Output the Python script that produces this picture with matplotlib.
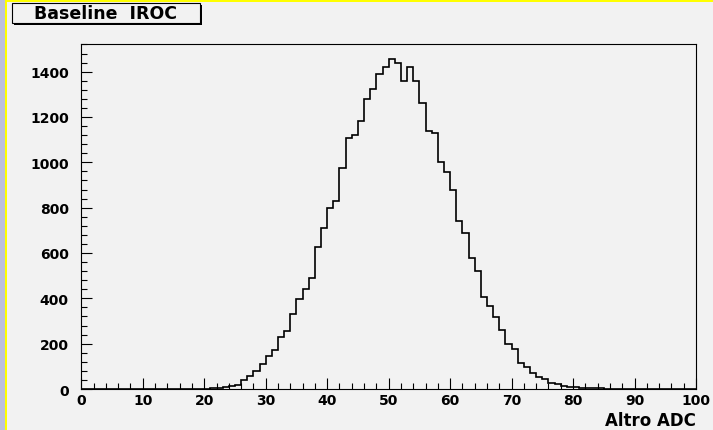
import numpy as np
import matplotlib
matplotlib.use("Agg")
import matplotlib.pyplot as plt
from matplotlib.patches import Rectangle
from matplotlib.ticker import MultipleLocator

# histogram contents, 1 ADC wide bins from 0 to 100
first_bin = 20
counts_nonzero = [1, 5, 3, 7, 13, 19, 40, 59, 81, 112,
                  147, 173, 229, 257, 330, 399, 443, 488, 628, 709,
                  799, 831, 973, 1106, 1122, 1184, 1280, 1325, 1391, 1422,
                  1454, 1438, 1360, 1422, 1360, 1261, 1140, 1131, 1001, 957,
                  880, 739, 687, 576, 521, 407, 366, 319, 261, 197,
                  176, 113, 95, 72, 51, 43, 28, 21, 15, 10,
                  7, 6, 3, 3, 3, 2, 2, 1, 1]
n_bins = 100
x_range = (0, 100)
title = "Baseline  IROC"
x_label = "Altro ADC"

counts = np.zeros(n_bins)
counts[first_bin:first_bin + len(counts_nonzero)] = counts_nonzero
edges = np.linspace(x_range[0], x_range[1], n_bins + 1)

W, H = 713, 431
bg = "#f2f2f2"
fig = plt.figure(figsize=(W / 100, H / 100), dpi=100, facecolor=bg)

# canvas border: lavender strip on the left, yellow edge
fig.patches.append(Rectangle((0, 0), 5 / W, 1, transform=fig.transFigure,
                             facecolor="#bcc0dc", edgecolor="none", zorder=0))
fig.patches.append(Rectangle((5 / W, 0), 2 / W, 1, transform=fig.transFigure,
                             facecolor="#ffff00", edgecolor="none", zorder=0))
fig.patches.append(Rectangle((5 / W, 1 - 3 / H), 1, 3 / H, transform=fig.transFigure,
                             facecolor="#ffff00", edgecolor="none", zorder=0))

ax = fig.add_axes([81.3 / W, 1 - 390 / H, (696 - 81.3) / W, (390 - 45) / H])
ax.set_facecolor(bg)
ax.stairs(counts, edges, color="black", linewidth=1.2)

ax.set_xlim(*x_range)
ax.set_ylim(0, 1522)
ax.xaxis.set_major_locator(MultipleLocator(10))
ax.xaxis.set_minor_locator(MultipleLocator(2))
ax.yaxis.set_major_locator(MultipleLocator(200))
ax.yaxis.set_minor_locator(MultipleLocator(40))
ax.tick_params(which="both", direction="in", top=False, right=False,
               width=0.8, colors="black")
ax.tick_params(which="major", length=8)
ax.tick_params(which="minor", length=4)
ax.tick_params(axis="x", pad=3)
ax.tick_params(axis="y", pad=9)
for lab in ax.get_xticklabels() + ax.get_yticklabels():
    lab.set_fontweight("bold")
    lab.set_fontsize(10)
for s in ax.spines.values():
    s.set_linewidth(0.8)
    s.set_color("black")

fig.text(696 / W, 1 - 426 / H, x_label, ha="right", va="baseline",
         fontsize=12, fontweight="bold")

# title box with shadow
bx0, bx1, by0, by1 = 12, 200, 4, 24
fig.patches.append(Rectangle((bx0 / W + 2 / W, 1 - by1 / H - 2 / H),
                             (bx1 - bx0) / W, (by1 - by0) / H,
                             transform=fig.transFigure, facecolor="black",
                             edgecolor="none", zorder=2))
fig.patches.append(Rectangle((bx0 / W, 1 - by1 / H), (bx1 - bx0) / W, (by1 - by0) / H,
                             transform=fig.transFigure, facecolor=bg,
                             edgecolor="black", linewidth=0.8, zorder=3))
fig.text((bx0 + bx1) / 2 / W, 1 - (by0 + by1) / 2 / H, title, ha="center",
         va="center", fontsize=12.5, fontweight="bold", zorder=4)

fig.savefig("out.png", dpi=100, facecolor=bg)
